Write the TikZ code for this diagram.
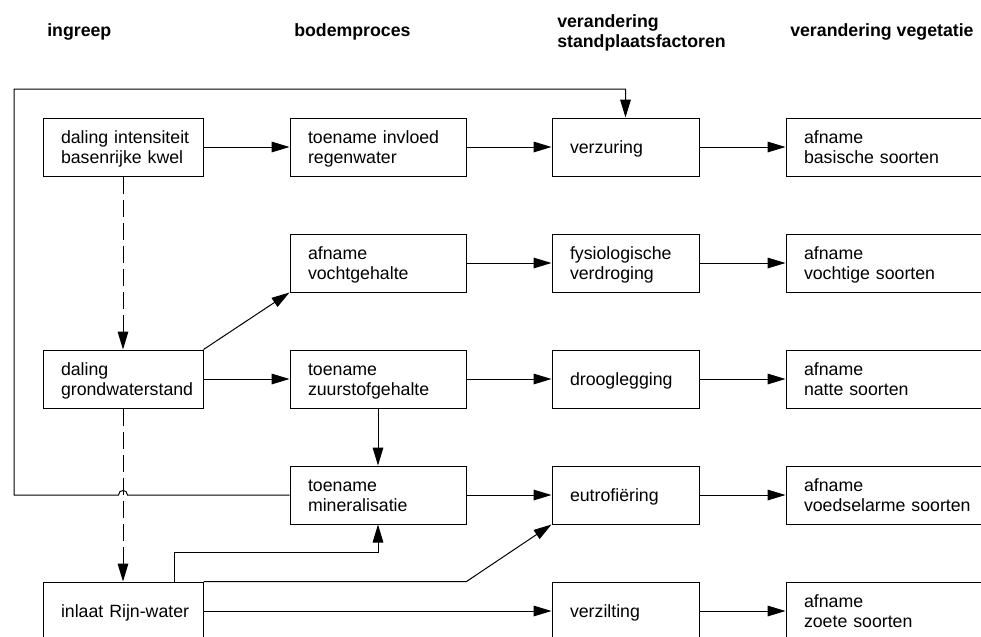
\documentclass[tikz,border=0pt]{standalone}
\usepackage{fontspec}
\setmainfont{Liberation Sans}
\usetikzlibrary{arrows.meta,calc}

\begin{document}
\begin{tikzpicture}[x=0.75pt,y=-0.75pt,
  every node/.style={font=\fontsize{13.3}{15.2}\selectfont},
  head/.style={inner sep=0pt,anchor=base west,align=left,
    font=\fontsize{13.3}{15.2}\selectfont\bfseries},
  box/.style={draw,line width=0.75pt,inner xsep=0pt,inner ysep=0pt,
    minimum height=43.5pt,align=left,text height=9.6pt,text depth=0pt,
    execute at begin node={\leftskip=13.5pt\relax}},
  two/.style={text depth=15.2pt},
  colA/.style={box,text width=120pt},
  colB/.style={box,text width=132pt},
  colC/.style={box,text width=110.25pt},
  colD/.style={box,text width=153.75pt},
  link/.style={line width=0.75pt,-{Triangle[length=13.5pt,width=8pt]}},
  hint/.style={link,dash pattern=on 12.75pt off 4.5pt}
]
\useasboundingbox (0,0) rectangle (981,636);
\clip (0,0) rectangle (981,636);
\fill[white] (0,0) rectangle (981,636);

% column headings
\node[head] (h1) at (47,36) {ingreep};
\node[head] (h2) at (294,36) {bodemproces};
\node[head,text width=150pt] (h3) at (557,27) {verandering\\standplaatsfactoren};
\node[head] (h4) at (790,36) {verandering vegetatie};

% ingreep
\node[colA,two] (A1) at (123,147) {daling intensiteit\\basenrijke kwel};
\node[colA,two] (A3) at (123,379) {daling\\grondwaterstand};
\node[colA]     (A5) at (123,611) {inlaat Rijn-water};

% bodemproces
\node[colB,two] (B1) at (378,147) {toename invloed\\regenwater};
\node[colB,two] (B2) at (378,263) {afname\\vochtgehalte};
\node[colB,two] (B3) at (378,379) {toename\\zuurstofgehalte};
\node[colB,two] (B4) at (378,495) {toename\\mineralisatie};

% standplaatsfactoren
\node[colC]     (C1) at (625.5,147) {verzuring};
\node[colC,two] (C2) at (625.5,263) {fysiologische\\verdroging};
\node[colC]     (C3) at (625.5,379) {drooglegging};
\node[colC]     (C4) at (625.5,495) {eutrofiëring};
\node[colC]     (C5) at (625.5,611) {verzilting};

% vegetatie
\node[colD,two] (D1) at (888.5,147) {afname\\basische soorten};
\node[colD,two] (D2) at (888.5,263) {afname\\vochtige soorten};
\node[colD,two] (D3) at (888.5,379) {afname\\natte soorten};
\node[colD,two] (D4) at (888.5,495) {afname\\voedselarme soorten};
\node[colD,two] (D5) at (888.5,611) {afname\\zoete soorten};

% straight chains
\draw[link] (A1.east) -- (B1.west);
\draw[link] (B1.east) -- (C1.west);
\draw[link] (C1.east) -- (D1.west);
\draw[link] (B2.east) -- (C2.west);
\draw[link] (C2.east) -- (D2.west);
\draw[link] (A3.east) -- (B3.west);
\draw[link] (B3.east) -- (C3.west);
\draw[link] (C3.east) -- (D3.west);
\draw[link] (B4.east) -- (C4.west);
\draw[link] (C4.east) -- (D4.west);
\draw[link] (A5.east) -- (C5.west);
\draw[link] (C5.east) -- (D5.west);

% branching links
\draw[link] (A3.north east) -- (B2.south west);
\draw[link] (B3.south) -- (B4.north);
\draw[link] ([xshift=38.25pt]A5.north) -- ++(0,-29) -| (B4.south);
\draw[link] (A5.north east) -- (B4.south east |- A5.north) -- (C4.south west);

% indirect effects
\draw[hint] (A1.south) -- (A3.north);
\draw[hint] (A3.south) -- (A5.north);

% feedback from mineralisation to acidification, hopping over the dashed line
\coordinate (hopR) at (127.5,495);
\coordinate (hopL) at (118.5,495);
\coordinate (loopB) at (14,495);
\coordinate (loopT) at (14,89);
\draw[link] (B4.west) -- (hopR) .. controls +(0,-6) and +(0,-6) .. (hopL)
  -- (loopB) -- (loopT) -| (C1.north);
\end{tikzpicture}
\end{document}
